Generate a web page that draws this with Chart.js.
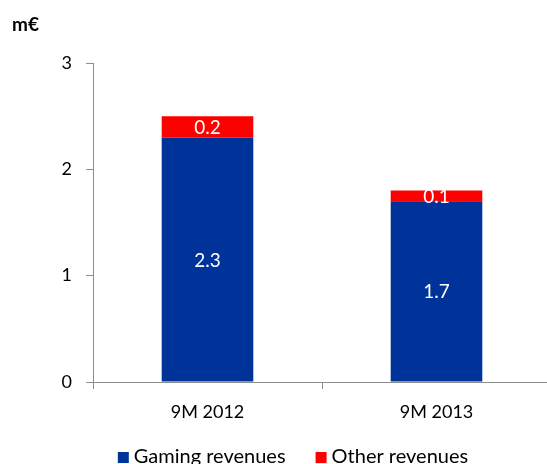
<!DOCTYPE html>
<html>
<head>
<meta charset="utf-8">
<script src="https://cdn.jsdelivr.net/npm/chart.js@4.4.1/dist/chart.umd.min.js"></script>
<style>
  html, body { margin: 0; padding: 0; overflow: hidden; background: #fff; }
  #wrap { position: relative; width: 552px; height: 464px; }
</style>
</head>
<body>
<div id="wrap"><canvas id="revChart"></canvas></div>
<script>
// Revenue split, in m€
const periods = ['9M 2012', '9M 2013'];
const gamingRevenues = [2.3, 1.7];
const otherRevenues = [0.2, 0.1];
const yTicks = [0, 1, 2, 3];
const unitLabel = 'm€';

const FONT = 'Lato, "Open Sans", sans-serif';
const AXIS_GREY = '#8c8c8c';

// white value labels in the middle of each stacked segment
const segmentLabels = {
    id: 'segmentLabels',
    afterDatasetsDraw(chart) {
        const ctx = chart.ctx;
        ctx.save();
        ctx.fillStyle = '#ffffff';
        ctx.font = '19px ' + FONT;
        ctx.textAlign = 'center';
        ctx.textBaseline = 'middle';
        chart.data.datasets.forEach((ds, i) => {
            chart.getDatasetMeta(i).data.forEach((bar, j) => {
                const mid = (bar.y + bar.base) / 2;
                ctx.fillText(ds.data[j].toFixed(1), bar.x, mid + 1);
            });
        });
        ctx.restore();
    }
};

// unit caption top-left + legend row along the bottom edge
const captionAndLegend = {
    id: 'captionAndLegend',
    afterDraw(chart) {
        const ctx = chart.ctx;
        ctx.save();
        ctx.fillStyle = '#000';
        ctx.font = 'bold 19px ' + FONT;
        ctx.textAlign = 'left';
        ctx.textBaseline = 'alphabetic';
        ctx.fillText(unitLabel, 12, 31);

        // legend: square swatch, label, gap between entries
        const box = 11, gapText = 5, gapItem = 30, boxTop = 452, baseline = 463, centerX = 293;
        ctx.font = '20px ' + FONT;
        const items = chart.data.datasets.map(ds => ({
            text: ds.label,
            color: ds.backgroundColor,
            w: box + gapText + ctx.measureText(ds.label).width
        }));
        const total = items.reduce((s, it) => s + it.w, 0) + gapItem * (items.length - 1);
        let x = centerX - total / 2;
        items.forEach(it => {
            ctx.fillStyle = it.color;
            ctx.fillRect(x, boxTop, box, box);
            ctx.fillStyle = '#000';
            ctx.fillText(it.text, x + box + gapText, baseline);
            x += it.w + gapItem;
        });
        ctx.restore();
    }
};

new Chart(document.getElementById('revChart'), {
    type: 'bar',
    data: {
        labels: periods,
        datasets: [{
            label: 'Gaming revenues',
            data: gamingRevenues,
            backgroundColor: '#003399',
            categoryPercentage: 1,
            barPercentage: 0.4
        }, {
            label: 'Other revenues',
            data: otherRevenues,
            backgroundColor: '#ff0000',
            categoryPercentage: 1,
            barPercentage: 0.4
        }]
    },
    options: {
        responsive: true,
        maintainAspectRatio: false,
        animation: false,
        layout: { padding: { left: 0, right: 1, top: 63, bottom: 0 } },
        plugins: {
            legend: { display: false },
            tooltip: { enabled: false }
        },
        scales: {
            x: {
                stacked: true,
                grid: {
                    drawOnChartArea: false,
                    tickLength: 7,
                    color: AXIS_GREY
                },
                border: { color: AXIS_GREY, width: 1 },
                ticks: {
                    color: '#000',
                    padding: 12,
                    font: { family: FONT, size: 18 }
                },
                afterFit(scale) {
                    // room under the plot for tick labels and the legend row
                    scale.height = 82;
                }
            },
            y: {
                stacked: true,
                min: 0,
                max: 3,
                afterBuildTicks(scale) {
                    scale.ticks = yTicks.map(v => ({ value: v }));
                },
                grid: {
                    drawOnChartArea: false,
                    tickLength: 7,
                    color: AXIS_GREY
                },
                border: { color: AXIS_GREY, width: 1 },
                ticks: {
                    color: '#000',
                    padding: 14,
                    font: { family: FONT, size: 18 }
                },
                afterFit(scale) {
                    scale.width = 93;
                }
            }
        }
    },
    plugins: [segmentLabels, captionAndLegend]
});
</script>
</body>
</html>
